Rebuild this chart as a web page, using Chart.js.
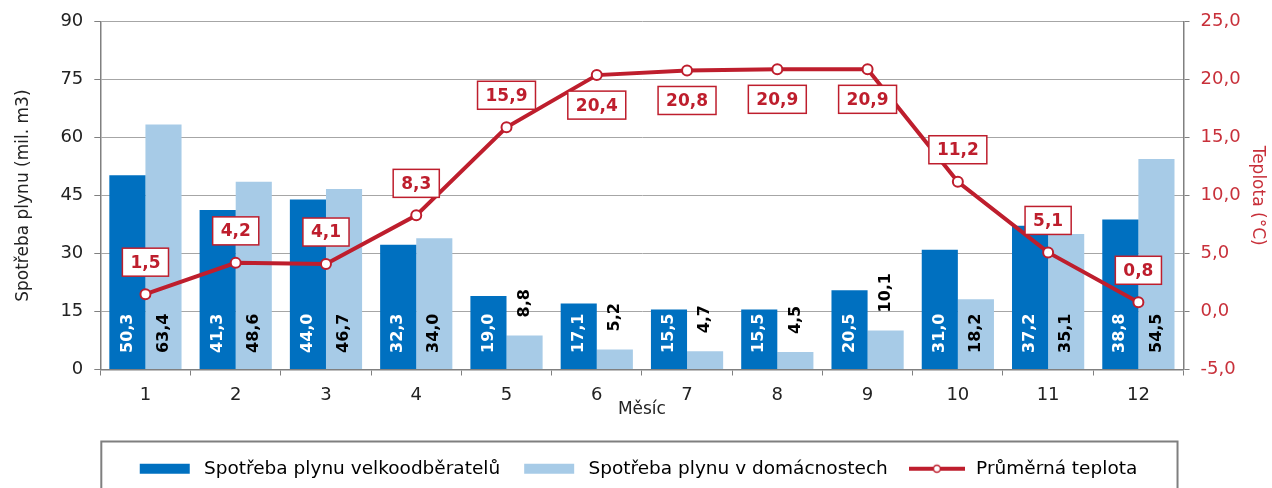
<!DOCTYPE html>
<html>
<head>
<meta charset="utf-8">
<script src="https://cdn.jsdelivr.net/npm/chart.js@4.4.1/dist/chart.umd.min.js"></script>
<style>
    html, body { margin: 0; padding: 0; background: #fff; }
    #wrap { width: 1272px; height: 488px; position: relative; }
</style>
</head>
<body>
<div id="wrap"><canvas id="gasChart"></canvas></div>
<script>
// Data
const months = ['1', '2', '3', '4', '5', '6', '7', '8', '9', '10', '11', '12'];
const velkoodberatele = [50.3, 41.3, 44.0, 32.3, 19.0, 17.1, 15.5, 15.5, 20.5, 31.0, 37.2, 38.8];
const domacnosti = [63.4, 48.6, 46.7, 34.0, 8.8, 5.2, 4.7, 4.5, 10.1, 18.2, 35.1, 54.5];
const teplota = [1.5, 4.2, 4.1, 8.3, 15.9, 20.4, 20.8, 20.9, 20.9, 11.2, 5.1, 0.8];
const seriesNames = ['Spotřeba plynu velkoodběratelů', 'Spotřeba plynu v domácnostech', 'Průměrná teplota'];
const leftTicks = [0, 15, 30, 45, 60, 75, 90];
const rightTicks = [-5, 0, 5, 10, 15, 20, 25];

const darkBlue = '#0070c0';
const lightBlue = '#a7cbe7';
const red = '#be1e2d';
const axisRed = '#c8303a';
const fontFamily = "'DejaVu Sans', sans-serif";

Chart.defaults.font.family = fontFamily;
Chart.defaults.color = '#222';

const fmt1 = v => v.toFixed(1).replace('.', ',');

// small canvases used as legend keys
function makeIcon(kind, color) {
    const c = document.createElement('canvas');
    c.width = 56;
    c.height = 12;
    const g = c.getContext('2d');
    if (kind === 'box') {
        g.fillStyle = color;
        g.fillRect(3, 1, 50, 10);
    } else {
        g.strokeStyle = color;
        g.lineWidth = 4;
        g.beginPath();
        g.moveTo(0, 6);
        g.lineTo(56, 6);
        g.stroke();
        g.fillStyle = '#fff';
        g.lineWidth = 1.5;
        g.beginPath();
        g.arc(28, 6, 3.5, 0, Math.PI * 2);
        g.fill();
        g.stroke();
    }
    return c;
}
const legendIcons = [makeIcon('box', darkBlue), makeIcon('box', lightBlue), makeIcon('line', red)];

// vertical value labels inside the bars (or above when the bar is too short)
const barLabels = {
    id: 'barLabels',
    afterDatasetDraw(chart, args) {
        if (args.meta.type !== 'bar') return;
        const ctx = chart.ctx;
        const values = chart.data.datasets[args.index].data;
        ctx.save();
        ctx.font = 'bold 16px ' + fontFamily;
        args.meta.data.forEach((bar, i) => {
            const text = fmt1(values[i]);
            const w = ctx.measureText(text).width;
            const h = bar.base - bar.y;
            let start = bar.base - 16;
            let color = args.index === 0 ? '#fff' : '#000';
            if (h < w + 12) {
                start = bar.y - 18;
                color = '#000';
            }
            ctx.save();
            ctx.translate(bar.x, start);
            ctx.rotate(-Math.PI / 2);
            ctx.textAlign = 'left';
            ctx.textBaseline = 'middle';
            ctx.fillStyle = color;
            ctx.fillText(text, 0, 0);
            ctx.restore();
        });
        ctx.restore();
    }
};

// boxed temperature labels
const tempLabels = {
    id: 'tempLabels',
    afterDatasetsDraw(chart) {
        const ctx = chart.ctx;
        const meta = chart.getDatasetMeta(2);
        const top = chart.chartArea.top;
        ctx.save();
        ctx.font = 'bold 17px ' + fontFamily;
        meta.data.forEach((pt, i) => {
            const text = fmt1(teplota[i]);
            const w = ctx.measureText(text).width + 16;
            const h = 28;
            let cy = pt.y - 32;
            if (cy - h / 2 < top + 30) cy = pt.y + 30;
            ctx.fillStyle = '#fff';
            ctx.fillRect(pt.x - w / 2, cy - h / 2, w, h);
            ctx.strokeStyle = red;
            ctx.lineWidth = 1.5;
            ctx.strokeRect(pt.x - w / 2, cy - h / 2, w, h);
            ctx.fillStyle = red;
            ctx.textAlign = 'center';
            ctx.textBaseline = 'middle';
            ctx.fillText(text, pt.x, cy + 1);
        });
        ctx.restore();
    }
};

// frame around the legend
const legendFrame = {
    id: 'legendFrame',
    afterDraw(chart) {
        const ctx = chart.ctx;
        const lg = chart.legend;
        const left = chart.chartArea.left + 1;
        ctx.save();
        ctx.strokeStyle = '#7f7f7f';
        ctx.lineWidth = 2;
        ctx.strokeRect(left, lg.top + 1, chart.chartArea.right - 6 - left, 80);
        ctx.restore();
    }
};

new Chart(document.getElementById('gasChart').getContext('2d'), {
    type: 'bar',
    data: {
        labels: months,
        datasets: [
            {
                label: seriesNames[0],
                data: velkoodberatele,
                backgroundColor: darkBlue,
                yAxisID: 'y',
                order: 1,
                categoryPercentage: 0.8,
                barPercentage: 1.0
            },
            {
                label: seriesNames[1],
                data: domacnosti,
                backgroundColor: lightBlue,
                yAxisID: 'y',
                order: 2,
                categoryPercentage: 0.8,
                barPercentage: 1.0
            },
            {
                type: 'line',
                label: seriesNames[2],
                data: teplota,
                yAxisID: 'y1',
                order: 0,
                borderColor: red,
                borderWidth: 4,
                pointRadius: 5,
                pointBorderWidth: 2,
                pointBackgroundColor: '#fff',
                pointBorderColor: red,
                tension: 0
            }
        ]
    },
    options: {
        responsive: true,
        maintainAspectRatio: false,
        animation: false,
        layout: { padding: { top: 11, left: 0, right: 0, bottom: 0 } },
        plugins: {
            tooltip: { enabled: false },
            legend: {
                position: 'bottom',
                labels: {
                    usePointStyle: true,
                    pointStyleWidth: 60,
                    boxHeight: 18,
                    padding: 19,
                    color: '#222',
                    font: { size: 18.5 },
                    generateLabels: () => seriesNames.map((name, i) => ({
                        text: name,
                        pointStyle: legendIcons[i],
                        fillStyle: 'transparent',
                        strokeStyle: 'transparent',
                        lineWidth: 0,
                        hidden: false,
                        datasetIndex: i
                    }))
                }
            }
        },
        scales: {
            x: {
                grid: {
                    offset: true,
                    drawOnChartArea: false,
                    tickLength: 6,
                    color: '#808080'
                },
                border: { color: '#808080', width: 1.5 },
                ticks: { padding: 9, color: '#222', font: { size: 18 } },
                title: {
                    display: true,
                    text: 'Měsíc',
                    color: '#222',
                    font: { size: 17 },
                    padding: { top: -16, bottom: 21 }
                }
            },
            y: {
                position: 'left',
                min: leftTicks[0],
                max: leftTicks[leftTicks.length - 1],
                grid: { color: '#a6a6a6', tickColor: '#808080', tickLength: 6 },
                border: { color: '#808080', width: 1.5 },
                ticks: {
                    stepSize: leftTicks[1] - leftTicks[0],
                    padding: 11,
                    color: '#222',
                    font: { size: 18 }
                },
                title: {
                    display: true,
                    text: 'Spotřeba plynu (mil. m3)',
                    color: '#222',
                    font: { size: 17 },
                    padding: { top: 13, bottom: 16 }
                }
            },
            y1: {
                position: 'right',
                min: rightTicks[0],
                max: rightTicks[rightTicks.length - 1],
                grid: { drawOnChartArea: false, tickColor: '#808080', tickLength: 6 },
                border: { color: '#808080', width: 1.5 },
                ticks: {
                    stepSize: rightTicks[1] - rightTicks[0],
                    padding: 11,
                    color: axisRed,
                    font: { size: 18 },
                    callback: v => fmt1(v)
                },
                title: {
                    display: true,
                    text: 'Teplota (°C)',
                    color: axisRed,
                    font: { size: 17 },
                    padding: { top: 4, bottom: -4 }
                }
            }
        }
    },
    plugins: [barLabels, tempLabels, legendFrame]
});
</script>
</body>
</html>
